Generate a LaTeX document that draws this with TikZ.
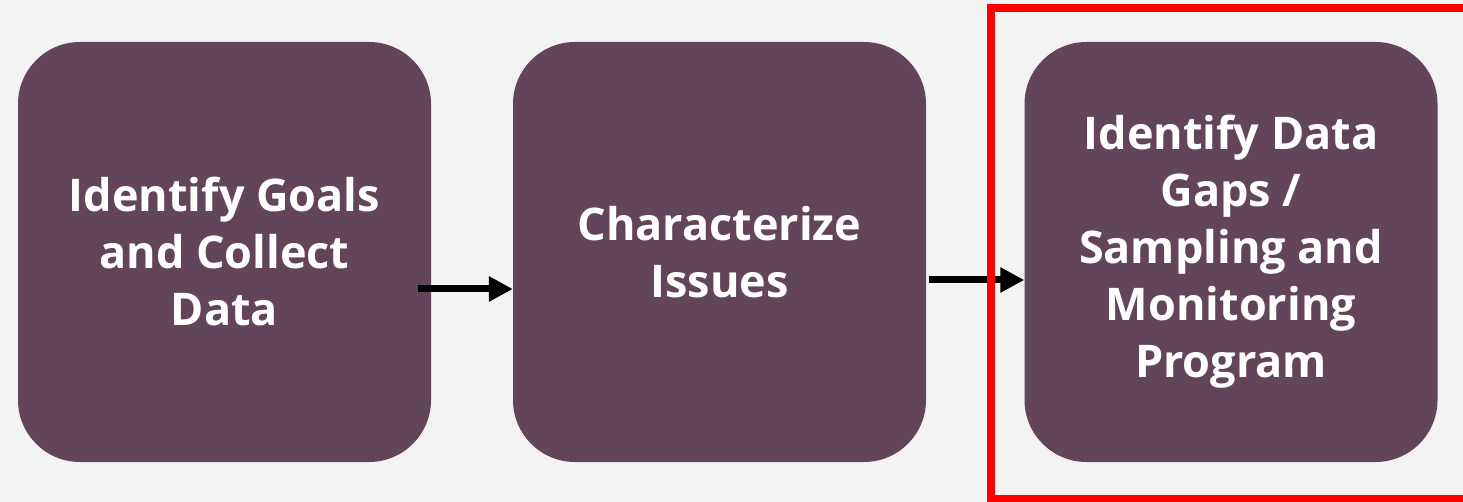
\documentclass[tikz,border=0pt]{standalone}
\usepackage{fontspec}
\setmainfont{Open Sans}
\usepackage{tikz}
\usetikzlibrary{arrows.meta}
\usepackage{xcolor}
\definecolor{plum}{RGB}{99,69,89}
\definecolor{paper}{RGB}{243,243,243}

\begin{document}
\begin{tikzpicture}[x=1pt, y=-1pt,
  stepbox/.style={fill=plum, rounded corners=62pt, minimum width=413pt, minimum height=420pt,
    align=center, text=white, font=\fontsize{45}{57}\selectfont\bfseries, inner sep=0pt},
  flow/.style={line width=7pt, -{Triangle[length=24pt, width=24pt]}}]
% Hintergrund
\useasboundingbox (0,0) rectangle (1463,502);
\fill[paper] (0,0) rectangle (1463,502);

% Schritte
\node[stepbox] (goals) at (224.5,252) {Identify Goals\\and Collect\\Data};
\node[stepbox] (issues) at (719.5,252) {Characterize\\Issues};
\node[stepbox] (gaps) at (1231,252) {Identify Data\\Gaps /\\Sampling and\\Monitoring\\Program};

% Pfeile
\draw[flow] ([xshift=-13pt, yshift=-37pt]goals.east) -- ([yshift=-37pt]issues.west);
\draw[flow] ([xshift=3pt, yshift=-28pt]issues.east) -- ([yshift=-28pt]gaps.west);

% Markierung
\draw[red, line width=8pt] (991,8) rectangle (1480,499);
\end{tikzpicture}
\end{document}
